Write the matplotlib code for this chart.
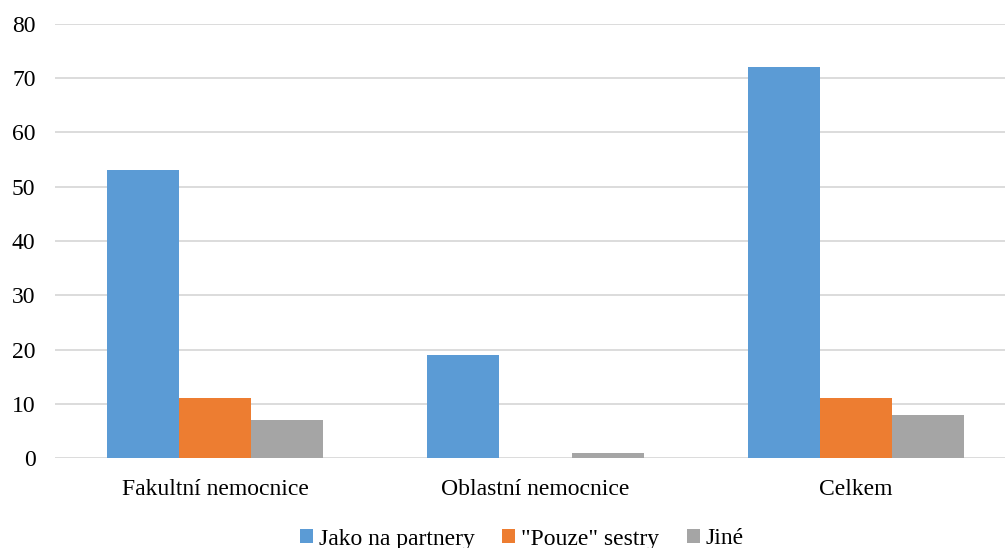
import matplotlib.pyplot as plt
import numpy as np

plt.rcParams['font.family'] = ['Liberation Serif', 'DejaVu Serif']

# Data
categories = ["Fakultní nemocnice", "Oblastní nemocnice", "Celkem"]
series_names = ["Jako na partnery", "\"Pouze\" sestry", "Jiné"]
partneri = [53, 19, 72]
pouze_sestry = [11, 0, 11]
jine = [7, 1, 8]
colors = ["#5B9BD5", "#ED7D31", "#A5A5A5"]

fig = plt.figure(figsize=(10.05, 5.48), dpi=100)
# plot area runs a little past the right edge of the figure
ax = fig.add_axes([55 / 1005, 90 / 548, 961 / 1005, 434 / 548])

x = np.arange(len(categories))
width = 0.225
for i, (vals, name) in enumerate(zip([partneri, pouze_sestry, jine], series_names)):
    ax.bar(x + (i - 1) * width, vals, width, color=colors[i], label=name, zorder=3)

ax.set_xlim(-0.5, 2.5)
ax.set_ylim(0, 80)
ax.set_yticks(range(0, 81, 10))
ax.set_xticks(x)
ax.set_xticklabels(categories)
ax.grid(axis='y', color='#D9D9D9', linewidth=1.3, zorder=0)
ax.tick_params(axis='both', length=0, labelsize=17)
ax.tick_params(axis='x', pad=15)
ax.tick_params(axis='y', pad=14)
for s in ax.spines.values():
    s.set_visible(False)

fig.legend(loc='center', bbox_to_anchor=(522 / 1005, 9 / 548), ncol=3,
           frameon=False, fontsize=17, handlelength=0.55, handleheight=0.55,
           handletextpad=0.25, columnspacing=1.15)

fig.savefig("out.png", dpi=100)
